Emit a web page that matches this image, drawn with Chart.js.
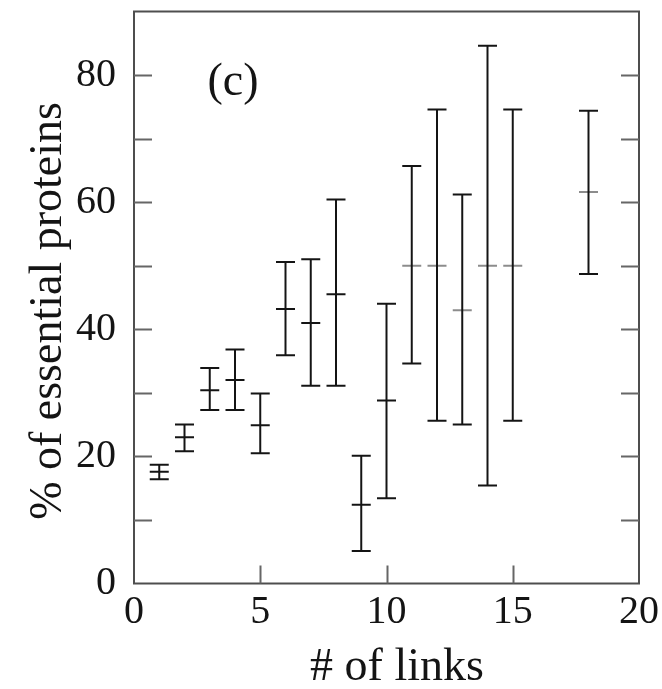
<!DOCTYPE html>
<html>
<head>
<meta charset="utf-8">
<script src="https://cdn.jsdelivr.net/npm/chart.js@4/dist/chart.umd.min.js"></script>
<style>
  html, body { margin: 0; padding: 0; background: #fff; }
  #wrap { width: 662px; height: 689px; position: relative; }
</style>
</head>
<body>
<div id="wrap"><canvas id="c"></canvas></div>
<script>
// Number of links per protein (x) and share of essential proteins (%)
const links = [1, 2, 3, 4, 5, 6, 7, 8, 9, 10, 11, 12, 13, 14, 15, 18];
const meanPct = [17.6, 23.0, 30.4, 32.0, 24.9, 43.2, 41.0, 45.5, 12.4, 28.8, 50.0, 50.0, 43.0, 50.0, 50.0, 61.6];
const lowerPct = [16.4, 20.8, 27.3, 27.3, 20.5, 35.9, 31.1, 31.1, 5.1, 13.4, 34.6, 25.6, 25.0, 15.4, 25.6, 48.7];
const upperPct = [18.7, 25.0, 33.9, 36.8, 29.9, 50.6, 51.0, 60.4, 20.1, 44.0, 65.7, 74.6, 61.2, 84.6, 74.6, 74.4];
const yTickLabels = ['0', '20', '40', '60', '80'];
const xTickLabels = ['0', '5', '10', '15', '20'];
const panelLabel = '(c)';
const xTitle = '# of links';
const yTitle = '% of essential proteins';

const SERIF = "'Liberation Serif', 'DejaVu Serif', serif";
const INK = '#141414';

// vertical whiskers: one segment per point, broken by a null
const whiskers = [];
links.forEach((x, i) => {
  whiskers.push({ x, y: lowerPct[i] });
  whiskers.push({ x, y: upperPct[i] });
  whiskers.push({ x, y: null });
});
const caps = [];
links.forEach((x, i) => {
  caps.push({ x, y: lowerPct[i] });
  caps.push({ x, y: upperPct[i] });
});
const means = links.map((x, i) => ({ x, y: meanPct[i] }));
const meanColors = links.map(x => (x >= 11 ? '#8c8c8c' : INK));

// frame, inward tick marks and free-standing text
const decorations = {
  id: 'decorations',
  afterDraw(chart) {
    const { ctx, chartArea: a, scales } = chart;
    const xs = scales.x, ys = scales.y;
    ctx.save();
    ctx.lineWidth = 2;
    ctx.strokeStyle = '#4e4e4e';
    ctx.strokeRect(a.left, a.top, a.right - a.left, a.bottom - a.top);

    const len = 18;
    ctx.strokeStyle = '#666';
    ctx.beginPath();
    ys.ticks.forEach(t => {
      if (t.value <= ys.min || t.value >= ys.max) return;
      const py = Math.round(ys.getPixelForValue(t.value)) + 0.5;
      ctx.moveTo(a.left, py); ctx.lineTo(a.left + len, py);
      ctx.moveTo(a.right, py); ctx.lineTo(a.right - len, py);
    });
    xs.ticks.forEach(t => {
      if (t.value <= xs.min || t.value >= xs.max) return;
      const px = Math.round(xs.getPixelForValue(t.value)) + 0.5;
      ctx.moveTo(px, a.bottom); ctx.lineTo(px, a.bottom - len);
    });
    ctx.stroke();

    ctx.fillStyle = INK;
    ctx.font = `46px ${SERIF}`;
    ctx.textAlign = 'center';
    ctx.textBaseline = 'alphabetic';
    ctx.fillText(panelLabel, 233, 95);
    ctx.fillText(xTitle, 397, 680);

    ctx.translate(61, 311);
    ctx.rotate(-Math.PI / 2);
    ctx.fillText(yTitle, 0, 0);
    ctx.restore();
  }
};

new Chart(document.getElementById('c'), {
  type: 'scatter',
  data: {
    datasets: [
      {
        label: 'range',
        type: 'line',
        data: whiskers,
        showLine: true,
        spanGaps: false,
        borderColor: INK,
        borderWidth: 2,
        pointRadius: 0,
        order: 2
      },
      {
        label: 'caps',
        data: caps,
        pointStyle: 'line',
        pointRadius: 9.5,
        pointBorderWidth: 2,
        pointBorderColor: INK,
        order: 1
      },
      {
        label: 'mean',
        data: means,
        pointStyle: 'line',
        pointRadius: 9.5,
        pointBorderWidth: 2,
        pointBorderColor: meanColors,
        order: 3
      }
    ]
  },
  options: {
    responsive: true,
    maintainAspectRatio: false,
    animation: false,
    events: [],
    layout: { padding: { top: 7.5, right: 23, left: 0, bottom: 0 } },
    plugins: { legend: { display: false }, tooltip: { enabled: false } },
    scales: {
      x: {
        type: 'linear',
        min: 0, max: 20,
        grid: { display: false, drawTicks: false },
        border: { display: false },
        ticks: {
          stepSize: 5,
          padding: 5,
          maxRotation: 0,
          color: INK,
          font: { family: SERIF, size: 40 },
          callback: (v) => xTickLabels[v / 5] ?? ''
        },
        afterFit(s) { s.height = 105.5; s.paddingLeft = 0; s.paddingRight = 0; }
      },
      y: {
        type: 'linear',
        min: 0, max: 90,
        grid: { display: false, drawTicks: false },
        border: { display: false },
        ticks: {
          stepSize: 10,
          padding: 18,
          color: INK,
          font: { family: SERIF, size: 40 },
          callback: (v) => (v % 20 === 0 ? (yTickLabels[v / 20] ?? '') : '')
        },
        afterFit(s) { s.width = 134; s.paddingTop = 0; s.paddingBottom = 0; }
      }
    }
  },
  plugins: [decorations]
});
</script>
</body>
</html>
